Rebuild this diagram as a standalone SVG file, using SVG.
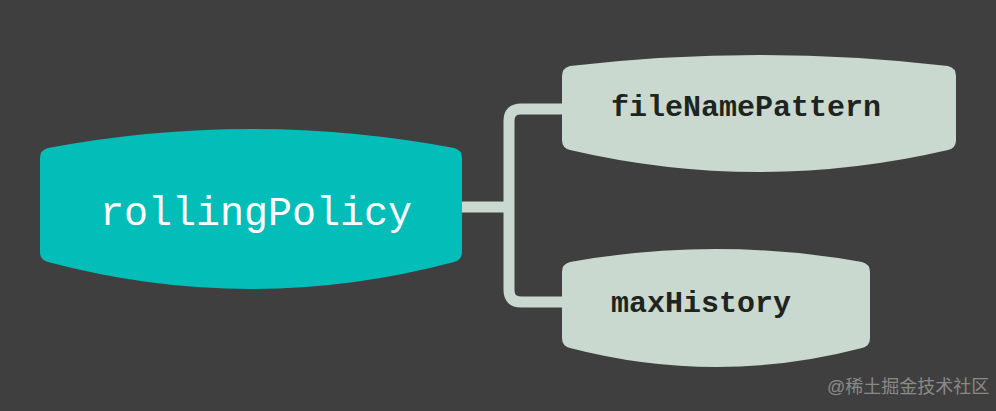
<svg xmlns="http://www.w3.org/2000/svg" width="996" height="411" viewBox="0 0 996 411">
<style>
.child{fill:#c9d9d0}
.ctext{font-family:"Liberation Mono",monospace;font-size:30px;font-weight:bold;fill:#1e2420}
.conn{fill:none;stroke:#c9d9d0;stroke-width:11;stroke-linejoin:round}
</style>
<rect width="996" height="411" fill="#3f3f3f"/>
<g id="connectors">
<path class="conn" d="M458,207 H509 M562,109 H521 Q509,109 509,121 V290 Q509,302 521,302 H566"/>
</g>
<g id="root">
<path d="M48,148 Q251,110 454,148 Q462,150 462,158 V252 Q462,260 454,262 Q251,316 48,262 Q40,260 40,252 V158 Q40,150 48,148 Z" fill="#03bdb9"/>
<text x="100" y="225" font-family="Liberation Mono, monospace" font-size="40" fill="#ffffff">rollingPolicy</text>
</g>
<g id="fileNamePattern">
<path class="child" d="M570,66 Q759,44 948,66 Q956,68 956,76 V140 Q956,148 948,150 Q759,194 570,150 Q562,148 562,140 V76 Q562,68 570,66 Z"/>
<text class="ctext" x="611" y="116">fileNamePattern</text>
</g>
<g id="maxHistory">
<path class="child" d="M570,262 Q716,236 862,262 Q870,264 870,272 V338 Q870,346 862,348 Q716,386 570,348 Q562,346 562,338 V272 Q562,264 570,262 Z"/>
<text class="ctext" x="611" y="312">maxHistory</text>
</g>
<text x="827" y="393" font-family="Liberation Sans, Noto Sans CJK SC, sans-serif" font-size="18" fill="#8a8a8a">@稀土掘金技术社区</text>
</svg>
